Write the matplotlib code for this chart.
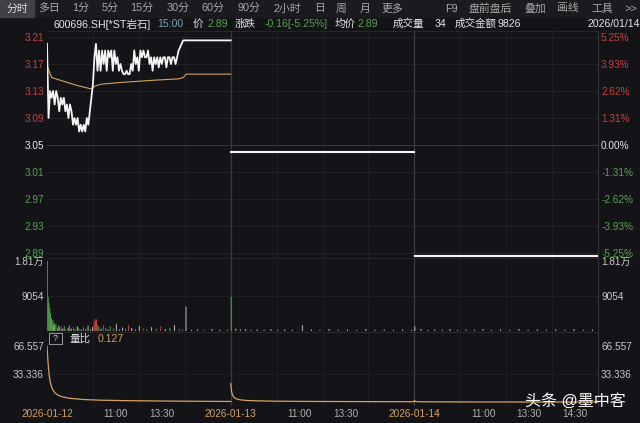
import numpy as np
import matplotlib.pyplot as plt
from matplotlib.patches import Rectangle

plt.rcParams['font.family'] = ['Liberation Sans', 'Noto Sans CJK SC', 'DejaVu Sans']

W, H = 640, 423
BG = '#141418'
BAR_BG = '#1b1b1f'
RED = '#c4423f'
GREEN = '#55a34f'
GOLD = '#d6a25e'
GREY = '#c9c9c9'
GRID = '#222227'

# ---- data ----
tabs = ['分时', '多日', '1分', '5分', '15分', '30分', '60分', '90分', '2小时', '日',
        '周', '月', '更多', 'F9', '盘前盘后', '叠加', '画线', '工具', '>>']

price_levels = [3.21, 3.17, 3.13, 3.09, 3.05, 3.01, 2.97, 2.93, 2.89]
price_labels = ['3.21', '3.17', '3.13', '3.09', '3.05', '3.01', '2.97', '2.93', '2.89']
pct_labels = ['5.25%', '3.93%', '2.62%', '1.31%', '0.00%', '-1.31%', '-2.62%', '-3.93%', '-5.25%']

# day 1 price, one value every 2 minutes until it settles
day1_price = [3.20, 3.09, 3.13, 3.12, 3.13, 3.11, 3.13, 3.12, 3.10, 3.12,
              3.11, 3.12, 3.10, 3.11, 3.09, 3.11, 3.10, 3.08, 3.09, 3.08,
              3.09, 3.07, 3.08, 3.07, 3.08, 3.07, 3.09, 3.08, 3.10, 3.12,
              3.14, 3.18, 3.20, 3.16, 3.19, 3.16, 3.19, 3.17, 3.19, 3.16,
              3.19, 3.18, 3.19, 3.16, 3.19, 3.17, 3.18, 3.16, 3.17, 3.16,
              3.155, 3.155, 3.16, 3.155, 3.155, 3.17, 3.16, 3.19, 3.17, 3.18,
              3.16, 3.19, 3.18, 3.19, 3.18, 3.18, 3.19, 3.17, 3.18, 3.16,
              3.18, 3.17, 3.18, 3.165, 3.18, 3.17, 3.18, 3.18, 3.165, 3.18,
              3.18, 3.17, 3.18, 3.18, 3.17, 3.18, 3.19, 3.195, 3.20, 3.205]
day1_close = 3.205
day2_price = 3.04
day3_price = 2.885

avg1_min = [0, 2, 6, 20, 40, 58, 62, 70, 100, 140, 172, 178, 182, 240]
avg1_val = [3.168, 3.162, 3.150, 3.145, 3.138, 3.133, 3.137, 3.140, 3.143, 3.146, 3.148, 3.150, 3.155, 3.155]

vol_min = [0, 1, 2, 3, 4, 5, 6, 7, 8, 9, 10, 11,
           13, 15, 16, 18, 20, 22, 24, 27, 29, 31, 34, 36, 39, 41, 44, 47, 50, 53, 56, 59,
           61, 62, 63, 64, 65, 67, 70, 73, 76, 79, 82, 86, 90, 94, 98,
           102, 106, 110, 115, 120, 125, 130, 136, 142, 148, 154, 160, 166, 172, 176, 181,
           188, 196, 205, 215, 225, 235,
           240, 246, 252, 259, 266, 274, 283, 292, 301, 310,
           320, 333, 345, 356, 368, 380, 392, 404, 416, 428,
           440, 452, 464, 476,
           480, 488, 497, 506, 516, 526, 536, 547, 558, 569,
           580, 592, 604, 616, 628, 640, 652, 664, 676, 688, 700, 712]
vol_val = [18100, 8800, 7200, 5900, 4600, 3400, 2300, 2800, 1500, 2100, 1200, 1800,
           900, 1400, 700, 1100, 600, 1300, 500, 900, 1500, 600, 1000, 500, 1200, 700, 400, 1000, 600, 1400, 500, 1100,
           2200, 3100, 2600, 3000, 1700, 1200, 600, 1500, 800, 400, 1200, 700, 1800, 500, 900,
           600, 1600, 800, 500, 1300, 700, 400, 1000, 600, 1200, 500, 800, 1500, 600, 400, 6300,
           300, 400, 300, 500, 300, 400,
           8800, 600, 400, 500, 300, 400, 300, 500, 300, 400,
           300, 1500, 400, 300, 500, 300, 400, 300, 500, 300,
           400, 300, 400, 300,
           1200, 500, 300, 400, 300, 500, 300, 400, 300, 500,
           300, 400, 300, 500, 300, 400, 300, 400, 300, 500, 300, 400]
vol_dir = ('rgggggggwgrg' + 'gwrgwgrwgwrgwgwrgwgw' + 'rrrrrgwrgwgrwgw'
           + 'grwgwrgwgrwgwrgwwwgwwg' + 'gwwwwwwwww' + 'wwwwwwwwww' + 'wwww'
           + 'wwwwwwwwww' + 'wwwwwwwwwwww')

ratio1_min = [0, 1, 2, 3, 4, 6, 8, 11, 15, 20, 28, 38, 50, 70, 100, 140, 180, 240]
ratio1_val = [66.5, 52, 40, 31, 25, 18, 14, 10.5, 8, 6.3, 4.8, 3.8, 3.0, 2.3, 1.8, 1.4, 1.1, 0.8]
ratio2_min = [240, 241, 242, 244, 247, 252, 260, 275, 300, 350, 420, 480]
ratio2_val = [22, 14, 9, 6, 4, 2.8, 2.0, 1.5, 1.1, 0.8, 0.6, 0.5]
ratio3_min = [480, 481, 483, 490, 510, 560, 640, 720]
ratio3_val = [1.8, 1.0, 0.6, 0.4, 0.3, 0.2, 0.15, 0.127]

tick_min = [0, 90, 150, 240, 330, 390, 480, 570, 630, 690]
tick_labels = ['2026-01-12', '11:00', '13:30', '2026-01-13', '11:00', '13:30',
               '2026-01-14', '11:00', '13:30', '14:30']

fig = plt.figure(figsize=(6.4, 4.23), dpi=100)
fig.patch.set_facecolor(BG)

# background layer in pixel coordinates
bg = fig.add_axes([0, 0, 1, 1])
bg.set_xlim(0, W)
bg.set_ylim(H, 0)
bg.axis('off')
bg.add_patch(Rectangle((0, 0), W, 17, color=BAR_BG))
bg.add_patch(Rectangle((0, 0), 34, 17, color='#404045'))
tab_x = [17, 49, 81, 110, 142, 178, 213, 249, 287, 320, 341, 365, 392, 451, 490, 535, 568, 602, 631]
for t, x in zip(tabs, tab_x):
    bg.text(x, 8.5, t, ha='center', va='center', fontsize=7.8,
            color='#e0e0e0' if t == '分时' else '#a8a8a8')

info = [(53, '600696.SH[*ST岩石]', '#e6e6e6'), (157, '15:00', '#6aaab8'),
        (193, '价', '#e6e6e6'), (208, '2.89', GREEN), (235, '涨跌', '#e6e6e6'),
        (265, '-0.16[-5.25%]', GREEN), (335, '均价', '#e6e6e6'), (358, '2.89', GREEN),
        (393, '成交量', '#e6e6e6'), (435, '34', '#e6e6e6'), (455, '成交金额', '#e6e6e6'),
        (498, '9826', '#e6e6e6'), (588, '2026/01/14', '#e6e6e6')]
for x, s, c in info:
    bg.text(x, 24, s, ha='left', va='center', fontsize=7.6, color=c)

for yy in [31, 258, 332]:
    bg.plot([47, 598], [yy, yy], color='#26262b', lw=0.7)
bg.plot([598, 598], [31, 406], color='#34343a', lw=0.8)

# quantity ratio header
bg.add_patch(Rectangle((49, 333), 13, 11, fill=False, ec='#9a9a9a', lw=0.7))
bg.text(55.5, 338.5, '?', ha='center', va='center', fontsize=6.5, color='#d0d0d0')
bg.text(70, 338.5, '量比', ha='left', va='center', fontsize=7.6, color='#e0e0e0')
bg.text(98, 338.5, '0.127', ha='left', va='center', fontsize=7.6, color=GOLD)


def px_axes(x0, y0, x1, y1):
    ax = fig.add_axes([x0 / W, 1 - y1 / H, (x1 - x0) / W, (y1 - y0) / H])
    ax.set_facecolor('none')
    ax.set_xlim(0, 720)
    for s in ax.spines.values():
        s.set_visible(False)
    ax.set_xticks([])
    for m in [60, 120, 180, 300, 360, 420, 540, 600, 660]:
        ax.axvline(m, color='#1e1e23', lw=0.6, zorder=0)
    for m in [240, 480]:
        ax.axvline(m, color='#3a3a40', lw=0.9, zorder=1)
    ax.tick_params(axis='y', length=0, labelsize=7.2, pad=2.2, labelcolor=GREY)
    return ax


# price panel
ax_p = px_axes(47, 31, 598, 258)
ax_p.set_ylim(2.8826, 3.2189)
for lv in price_levels:
    ax_p.axhline(lv, color='#3a3a40' if lv == 3.05 else GRID, lw=0.7, zorder=0)
t1 = list(np.arange(len(day1_price)) * 2) + [240]
ax_p.plot(t1, day1_price + [day1_close], color='#f4f4f4', lw=1.3, zorder=3)
ax_p.plot(avg1_min, avg1_val, color=GOLD, lw=0.8, zorder=2)
ax_p.plot([240, 479], [day2_price, day2_price], color='#f4f4f4', lw=1.5, zorder=3)
ax_p.plot([481, 720], [day3_price, day3_price], color='#f4f4f4', lw=1.5, zorder=3)
ax_p.set_yticks(price_levels, price_labels)
ax_r2 = ax_p.twinx()
ax_r2.set_ylim(ax_p.get_ylim())
for s in ax_r2.spines.values():
    s.set_visible(False)
ax_r2.set_yticks(price_levels, pct_labels)
ax_r2.tick_params(axis='y', length=0, labelsize=7.2, pad=2.2)
for lab_l, lab_r, lv in zip(ax_p.get_yticklabels(), ax_r2.get_yticklabels(), price_levels):
    c = RED if lv > 3.05 else (GREEN if lv < 3.05 else '#e8e8e8')
    lab_l.set_color(c)
    lab_r.set_color(c)

# volume panel (drawn back to front so the tall opening bar stays on top)
ax_v = px_axes(47, 258, 598, 332)
ax_v.set_ylim(-259, 18878)
ax_v.axhline(9054, color=GRID, lw=0.6, zorder=0)
cmap = {'r': RED, 'g': GREEN, 'w': '#b8b8b8'}
vol_colors = [cmap[d] for d in vol_dir[:len(vol_min)]]
ax_v.bar(vol_min[::-1], vol_val[::-1], width=1.3, align='edge',
         color=vol_colors[::-1], lw=0, zorder=2, snap=False)
ax_v.set_yticks([18100, 9054], ['1.81万', '9054'])
ax_v.tick_params(axis='y', labelright=True)

# volume ratio panel
ax_q = px_axes(47, 332, 598, 406)
ax_q.set_ylim(-4.6, 83.2)
ax_q.axhline(33.336, color=GRID, lw=0.6, zorder=0)
for mm, vv in [(ratio1_min, ratio1_val), (ratio2_min, ratio2_val), (ratio3_min, ratio3_val)]:
    ax_q.plot(mm, vv, color=GOLD, lw=0.9, zorder=2)
ax_q.set_yticks([66.557, 33.336], ['66.557', '33.336'])
ax_q.tick_params(axis='y', labelright=True)
ax_q.set_xticks(tick_min, tick_labels)
ax_q.tick_params(axis='x', length=0, labelsize=7.2, pad=2.0)
for lab in ax_q.get_xticklabels():
    lab.set_color(GOLD if '-' in lab.get_text() else '#b0b0b0')

fig.text(575 / W, 1 - 401 / H, '头条 @墨中客', ha='center', va='center',
         fontsize=11.5, color='white')

fig.savefig('out.png', dpi=100, facecolor=BG)
